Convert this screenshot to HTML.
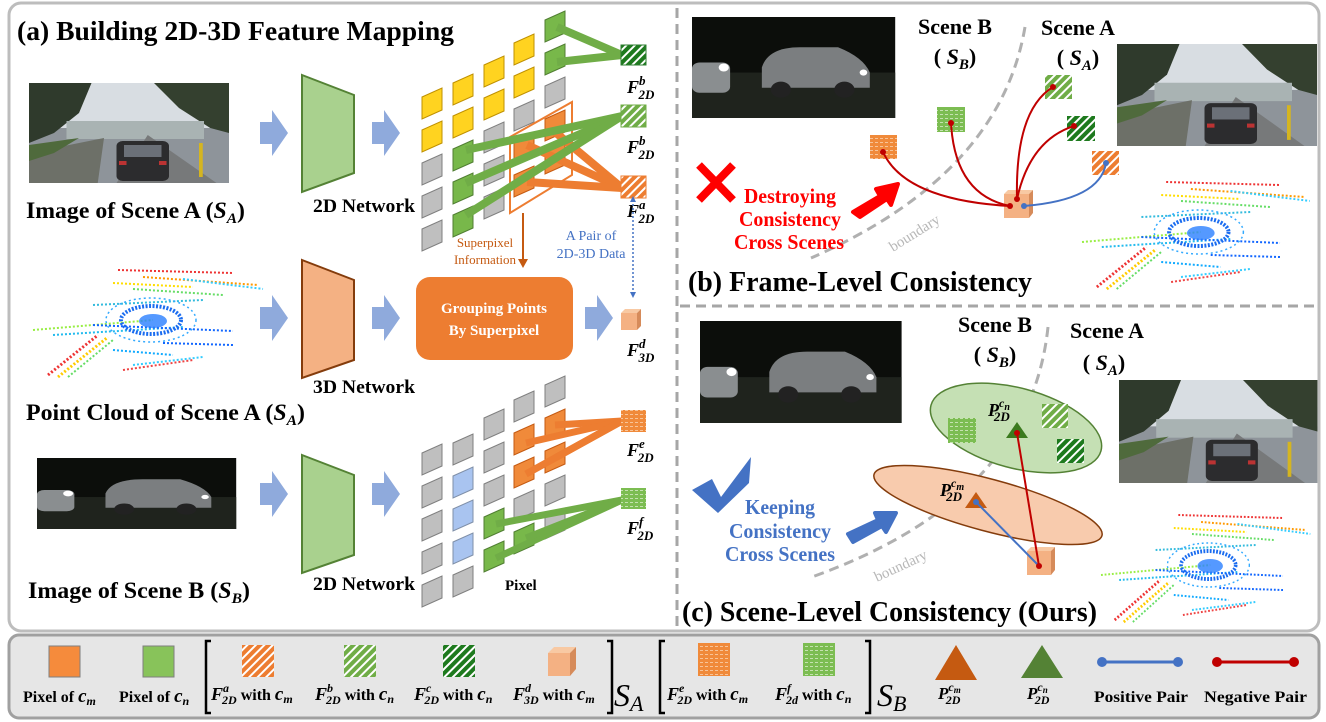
<!DOCTYPE html>
<html><head><meta charset="utf-8"><style>
html,body{margin:0;padding:0;background:#fff;}
svg{display:block;font-family:"Liberation Serif",serif;}
</style></head><body>
<svg width="1326" height="722" viewBox="0 0 1326 722" xmlns="http://www.w3.org/2000/svg">
<defs>
<polygon id="c" points="0,10 20,1 20,23 0,32"/>
<pattern id="hO" width="6" height="6" patternUnits="userSpaceOnUse" patternTransform="rotate(45)"><rect width="6" height="6" fill="#ed7d31"/><rect width="2" height="6" fill="#fff"/></pattern>
<pattern id="hG" width="6" height="6" patternUnits="userSpaceOnUse" patternTransform="rotate(45)"><rect width="6" height="6" fill="#70ad47"/><rect width="2" height="6" fill="#fff"/></pattern>
<pattern id="hD" width="6" height="6" patternUnits="userSpaceOnUse" patternTransform="rotate(45)"><rect width="6" height="6" fill="#1e7a1e"/><rect width="2" height="6" fill="#fff"/></pattern>
<pattern id="zO" width="5" height="4" patternUnits="userSpaceOnUse"><rect width="5" height="4" fill="#f08a3a"/><rect y="2" width="3" height="0.8" fill="#fbd3b0"/></pattern>
<pattern id="zG" width="5" height="4" patternUnits="userSpaceOnUse"><rect width="5" height="4" fill="#7cbd52"/><rect y="2" width="3" height="0.8" fill="#d7ecc8"/></pattern>
<g id="pc">
 <g fill="none" stroke-width="2" stroke-dasharray="2 2">
  <path d="M85,5 L200,8" stroke="#e33"/><path d="M110,12 L225,20" stroke="#f90"/><path d="M80,18 L160,22" stroke="#fd0"/>
  <path d="M150,14 L230,24" stroke="#3cf"/><path d="M100,24 L190,30" stroke="#6d6"/>
  <path d="M0,65 L120,55" stroke="#9e4"/><path d="M20,70 L150,62" stroke="#2be"/><path d="M60,60 L200,66" stroke="#16f"/>
  <path d="M15,110 L65,70" stroke="#e33" stroke-width="3"/><path d="M25,112 L75,72" stroke="#fc0" stroke-width="3"/><path d="M35,112 L80,75" stroke="#6d6"/>
  <path d="M90,105 L160,95" stroke="#e44"/><path d="M100,100 L170,92" stroke="#3cf"/>
  <path d="M60,40 L170,35" stroke="#3bd"/><path d="M130,78 L200,80" stroke="#16f"/><path d="M80,85 L140,90" stroke="#1af"/>
 </g>
 <ellipse cx="118" cy="55" rx="30" ry="14" fill="none" stroke="#1a6cf0" stroke-width="4" stroke-dasharray="2 1.5"/>
 <ellipse cx="120" cy="56" rx="14" ry="7" fill="#2a80ff" opacity=".8"/>
 <ellipse cx="118" cy="55" rx="45" ry="22" fill="none" stroke="#3af" stroke-width="1.5" stroke-dasharray="2 3"/>
</g>
<g id="day">
 <rect width="160" height="100" fill="#8e949a"/>
 <rect width="160" height="45" fill="#d8dde2"/>
 <path d="M0,0 H50 L40,30 L20,50 L0,60 Z" fill="#2f3a2c"/>
 <path d="M160,0 H100 L120,25 L145,45 L160,50 Z" fill="#34402f"/>
 <rect x="30" y="38" width="110" height="18" fill="#a9b3b3"/>
 <path d="M0,70 L60,55 L55,100 L0,100Z" fill="#6d7068"/>
 <path d="M0,62 L40,55 L20,70 L0,78Z" fill="#4f6a3c"/>
 <path d="M70,100 L95,52 L150,100Z" fill="#77797a"/>
 <rect x="70" y="58" width="42" height="40" rx="5" fill="#2c2c2e"/>
 <rect x="76" y="62" width="30" height="12" fill="#6b7078"/>
 <rect x="72" y="78" width="6" height="4" fill="#b33"/><rect x="104" y="78" width="6" height="4" fill="#b33"/>
 <rect x="136" y="60" width="3" height="34" fill="#d5b520"/>
</g>
<g id="night">
 <rect width="160" height="100" fill="#0c0e0b"/>
 <rect y="55" width="160" height="45" fill="#1f231d"/>
 <path d="M55,50 Q60,30 85,30 L115,30 Q135,40 140,55 L140,70 L55,70Z" fill="#7b7e80"/>
 <circle cx="70" cy="72" r="8" fill="#222"/><circle cx="120" cy="72" r="8" fill="#222"/>
 <rect x="0" y="45" width="30" height="30" rx="6" fill="#8a8e90"/>
 <circle cx="25" cy="50" r="4" fill="#fff"/><circle cx="135" cy="55" r="3" fill="#fff"/>
</g>
</defs>

<!-- frames -->
<rect x="9" y="3" width="1310" height="628" rx="12" fill="#fff" stroke="#bdbdbd" stroke-width="3"/>
<line x1="677" y1="8" x2="677" y2="626" stroke="#a6a6a6" stroke-width="3" stroke-dasharray="10 6"/>
<line x1="680" y1="306" x2="1318" y2="306" stroke="#a6a6a6" stroke-width="3" stroke-dasharray="10 6"/>
<rect x="9" y="635" width="1310" height="83" rx="10" fill="#e6e6e6" stroke="#a0a0a0" stroke-width="3"/>

<!-- (a) -->
<text x="17" y="40" font-size="27" font-weight="bold" textLength="437" lengthAdjust="spacingAndGlyphs">(a) Building 2D-3D Feature Mapping</text>
<use href="#day" transform="translate(29,83) scale(1.25,1)"/>
<text x="26" y="218" font-size="23" font-weight="bold" textLength="219" lengthAdjust="spacingAndGlyphs">Image of Scene A (<tspan font-style="italic">S</tspan><tspan font-style="italic" font-size="15" dy="5">A</tspan><tspan dy="-5">)</tspan></text>
<use href="#pc" transform="translate(33,265)"/>
<text x="26" y="420" font-size="23" font-weight="bold" textLength="279" lengthAdjust="spacingAndGlyphs">Point Cloud of Scene A (<tspan font-style="italic">S</tspan><tspan font-style="italic" font-size="15" dy="5">A</tspan><tspan dy="-5">)</tspan></text>
<use href="#night" transform="translate(37,458) scale(1.245,0.71)"/>
<text x="28" y="598" font-size="23" font-weight="bold" textLength="222" lengthAdjust="spacingAndGlyphs">Image of Scene B (<tspan font-style="italic">S</tspan><tspan font-style="italic" font-size="15" dy="5">B</tspan><tspan dy="-5">)</tspan></text>

<g fill="#8faadc">
 <path d="M260,122 h12 v-12 l16,23 l-16,23 v-12 h-12z"/>
 <path d="M372,122 h12 v-12 l16,23 l-16,23 v-12 h-12z"/>
 <path d="M260,307 h12 v-12 l16,23 l-16,23 v-12 h-12z"/>
 <path d="M372,307 h12 v-12 l16,23 l-16,23 v-12 h-12z"/>
 <path d="M585,307 h12 v-12 l16,23 l-16,23 v-12 h-12z"/>
 <path d="M260,483 h12 v-12 l16,23 l-16,23 v-12 h-12z"/>
 <path d="M372,483 h12 v-12 l16,23 l-16,23 v-12 h-12z"/>
</g>
<polygon points="302,75 354,95 354,173 302,192" fill="#a9d18e" stroke="#548235" stroke-width="2"/>
<text x="313" y="212" font-size="19" font-weight="bold" textLength="102" lengthAdjust="spacingAndGlyphs">2D Network</text>
<polygon points="302,260 354,280 354,360 302,378" fill="#f4b183" stroke="#843c0c" stroke-width="2"/>
<text x="313" y="393" font-size="19" font-weight="bold" textLength="102" lengthAdjust="spacingAndGlyphs">3D Network</text>
<polygon points="302,455 354,475 354,555 302,573" fill="#a9d18e" stroke="#548235" stroke-width="2"/>
<text x="313" y="590" font-size="19" font-weight="bold" textLength="102" lengthAdjust="spacingAndGlyphs">2D Network</text>

<!-- top grid -->
<g>
<g fill="#ffd320" stroke="#bf9000">
 <use href="#c" x="422" y="87"/><use href="#c" x="422" y="120"/>
 <use href="#c" x="453" y="73"/><use href="#c" x="453" y="106"/>
 <use href="#c" x="484" y="55"/><use href="#c" x="484" y="88"/>
 <use href="#c" x="514" y="33"/><use href="#c" x="514" y="66"/>
</g>
<g fill="#bfbfbf" stroke="#7f7f7f">
 <use href="#c" x="422" y="153"/><use href="#c" x="422" y="186"/><use href="#c" x="422" y="219"/>
 <use href="#c" x="484" y="121"/><use href="#c" x="484" y="154"/><use href="#c" x="484" y="187"/>
 <use href="#c" x="514" y="99"/><use href="#c" x="545" y="76"/>
</g>
<g fill="#78b84a" stroke="#507e32">
 <use href="#c" x="453" y="139"/><use href="#c" x="453" y="172"/><use href="#c" x="453" y="205"/>
 <use href="#c" x="545" y="10"/><use href="#c" x="545" y="43"/>
</g>
<g fill="#f08a3a" stroke="#c55a11">
 <use href="#c" x="514" y="132"/><use href="#c" x="514" y="165"/>
 <use href="#c" x="545" y="109"/><use href="#c" x="545" y="142"/>
</g>
</g>
<polygon points="510,137 572,102 572,175 510,213" fill="none" stroke="#ed7d31" stroke-width="2"/>
<g stroke-width="8">
 <line x1="557" y1="27" x2="622" y2="55" stroke="#70ad47"/>
 <line x1="557" y1="62" x2="622" y2="55" stroke="#70ad47"/>
 <line x1="527" y1="145" x2="622" y2="188" stroke="#ed7d31"/>
 <line x1="527" y1="182" x2="622" y2="188" stroke="#ed7d31"/>
 <line x1="555" y1="132" x2="622" y2="188" stroke="#ed7d31"/>
 <line x1="466" y1="150" x2="622" y2="116" stroke="#70ad47"/>
 <line x1="466" y1="183" x2="622" y2="116" stroke="#70ad47"/>
 <line x1="466" y1="215" x2="622" y2="116" stroke="#70ad47"/>
</g>
<rect x="621" y="45" width="25" height="20" fill="url(#hD)" stroke="#2e7d32"/>
<rect x="621" y="105" width="25" height="22" fill="url(#hG)" stroke="#70ad47"/>
<rect x="621" y="176" width="25" height="22" fill="url(#hO)" stroke="#ed7d31"/>
<g font-size="18" font-weight="bold" font-style="italic">
 <text x="627" y="93">F<tspan font-size="13" dy="-8">b</tspan><tspan font-size="13" dx="-7" dy="14">2D</tspan></text>
 <text x="627" y="153">F<tspan font-size="13" dy="-8">b</tspan><tspan font-size="13" dx="-7" dy="14">2D</tspan></text>
 <text x="627" y="217">F<tspan font-size="13" dy="-8">a</tspan><tspan font-size="13" dx="-7" dy="14">2D</tspan></text>
 <text x="627" y="356">F<tspan font-size="13" dy="-8">d</tspan><tspan font-size="13" dx="-7" dy="14">3D</tspan></text>
 <text x="627" y="456">F<tspan font-size="13" dy="-8">e</tspan><tspan font-size="13" dx="-7" dy="14">2D</tspan></text>
 <text x="627" y="534">F<tspan font-size="13" dy="-8">f</tspan><tspan font-size="13" dx="-6" dy="14">2D</tspan></text>
</g>
<line x1="523" y1="213" x2="523" y2="260" stroke="#c55a11" stroke-width="2"/>
<path d="M518,259 L528,259 L523,268Z" fill="#c55a11"/>
<text x="485" y="247" font-size="13" fill="#c55a11" text-anchor="middle">Superpixel</text>
<text x="485" y="264" font-size="13" fill="#c55a11" text-anchor="middle">Information</text>
<line x1="633" y1="200" x2="633" y2="294" stroke="#4472c4" stroke-width="1.5" stroke-dasharray="2 2"/>
<path d="M630,202 L636,202 L633,196Z M630,292 L636,292 L633,298Z" fill="#4472c4"/>
<text x="591" y="240" font-size="14" fill="#4472c4" text-anchor="middle">A Pair of</text>
<text x="591" y="258" font-size="14" fill="#4472c4" text-anchor="middle">2D-3D Data</text>
<rect x="416" y="277" width="157" height="83" rx="14" fill="#ed7d31"/>
<text x="494" y="313" font-size="15" font-weight="bold" fill="#fff" text-anchor="middle">Grouping Points</text>
<text x="494" y="335" font-size="15" font-weight="bold" fill="#fff" text-anchor="middle">By Superpixel</text>
<g><rect x="621" y="313" width="16" height="17" fill="#f4b183"/><path d="M621,313 l4,-4 h16 l-4,4z" fill="#f8c9a3"/><path d="M637,313 l4,-4 v17 l-4,4z" fill="#d68b5a"/></g>

<!-- bottom grid -->
<g>
<g fill="#bfbfbf" stroke="#7f7f7f">
 <use href="#c" x="422" y="443"/><use href="#c" x="422" y="476"/><use href="#c" x="422" y="509"/><use href="#c" x="422" y="542"/><use href="#c" x="422" y="575"/>
 <use href="#c" x="453" y="433"/><use href="#c" x="453" y="565"/>
 <use href="#c" x="484" y="408"/><use href="#c" x="484" y="441"/><use href="#c" x="484" y="474"/>
 <use href="#c" x="514" y="390"/><use href="#c" x="514" y="489"/>
 <use href="#c" x="545" y="375"/><use href="#c" x="545" y="474"/><use href="#c" x="545" y="507"/>
</g>
<g fill="#a9c4f0" stroke="#7f8fa8">
 <use href="#c" x="453" y="466"/><use href="#c" x="453" y="499"/><use href="#c" x="453" y="532"/>
</g>
<g fill="#78b84a" stroke="#507e32">
 <use href="#c" x="484" y="507"/><use href="#c" x="484" y="540"/><use href="#c" x="514" y="522"/>
</g>
<g fill="#f08a3a" stroke="#c55a11">
 <use href="#c" x="514" y="423"/><use href="#c" x="514" y="456"/>
 <use href="#c" x="545" y="408"/><use href="#c" x="545" y="441"/>
</g>
</g>
<g stroke-width="7">
 <line x1="555" y1="425" x2="622" y2="421" stroke="#ed7d31"/>
 <line x1="526" y1="443" x2="622" y2="421" stroke="#ed7d31"/>
 <line x1="555" y1="458" x2="622" y2="421" stroke="#ed7d31"/>
 <line x1="526" y1="474" x2="622" y2="421" stroke="#ed7d31"/>
 <line x1="496" y1="524" x2="622" y2="500" stroke="#70ad47"/>
 <line x1="496" y1="558" x2="622" y2="500" stroke="#70ad47"/>
 <line x1="526" y1="538" x2="622" y2="500" stroke="#70ad47"/>
</g>
<rect x="621" y="410" width="25" height="22" fill="url(#zO)"/>
<rect x="621" y="488" width="25" height="21" fill="url(#zG)"/>
<text x="505" y="590" font-size="15" font-weight="bold">Pixel</text>

<!-- (b) -->
<use href="#night" transform="translate(692,17) scale(1.27,1.01)"/>
<use href="#day" transform="translate(1117,44) scale(1.25,1.02)"/>
<use href="#pc" transform="translate(1082,177) scale(0.99,1.0)"/>
<text x="955" y="34" font-size="22" font-weight="bold" text-anchor="middle">Scene B</text>
<text x="955" y="64" font-size="22" font-weight="bold" text-anchor="middle">( <tspan font-style="italic">S</tspan><tspan font-style="italic" font-size="15" dy="5">B</tspan><tspan dy="-5">)</tspan></text>
<text x="1078" y="35" font-size="22" font-weight="bold" text-anchor="middle">Scene A</text>
<text x="1078" y="65" font-size="22" font-weight="bold" text-anchor="middle">( <tspan font-style="italic">S</tspan><tspan font-style="italic" font-size="15" dy="5">A</tspan><tspan dy="-5">)</tspan></text>
<path d="M1025,27 Q1000,175 811,258" fill="none" stroke="#b0b0b0" stroke-width="3" stroke-dasharray="10 6"/>
<text x="893" y="252" font-size="15" fill="#b8b8b8" transform="rotate(-32 893 252)">boundary</text>
<rect x="870" y="135" width="27" height="24" fill="url(#zO)"/>
<rect x="937" y="107" width="28" height="25" fill="url(#zG)"/>
<rect x="1045" y="75" width="27" height="24" fill="url(#hG)"/>
<rect x="1067" y="116" width="28" height="25" fill="url(#hD)"/>
<rect x="1092" y="151" width="27" height="24" fill="url(#hO)"/>
<g><rect x="1004" y="194" width="25" height="24" fill="#f4b183"/><path d="M1004,194 l4,-4 h25 l-4,4z" fill="#f8c9a3"/><path d="M1029,194 l4,-4 v23 l-4,5z" fill="#d68b5a"/></g>
<g fill="none" stroke="#c00000" stroke-width="2">
 <path d="M883,152 Q905,200 1010,206"/>
 <path d="M951,123 Q955,195 1010,206"/>
 <path d="M1017,199 Q1015,110 1053,87"/>
 <path d="M1017,199 Q1030,140 1074,126"/>
</g>
<path d="M1024,206 Q1100,200 1106,163" fill="none" stroke="#4472c4" stroke-width="2"/>
<g fill="#c00000"><circle cx="883" cy="152" r="3"/><circle cx="951" cy="123" r="3"/><circle cx="1053" cy="87" r="3"/><circle cx="1074" cy="126" r="3"/><circle cx="1010" cy="206" r="3"/><circle cx="1017" cy="199" r="3"/></g>
<g fill="#4472c4"><circle cx="1106" cy="163" r="3"/><circle cx="1024" cy="206" r="3"/></g>
<path d="M699,165 L733,200 M733,165 L699,200" stroke="#f00" stroke-width="8"/>
<g font-size="21" font-weight="bold" fill="#f00" text-anchor="middle">
 <text x="790" y="203" textLength="92" lengthAdjust="spacingAndGlyphs">Destroying</text><text x="790" y="226" textLength="102" lengthAdjust="spacingAndGlyphs">Consistency</text><text x="789" y="249" textLength="110" lengthAdjust="spacingAndGlyphs">Cross Scenes</text>
</g>
<path d="M853,212 L880,196 L876,189 L898,184 L891,205 L887,199 L860,217Z" fill="#f00" stroke="#f00" stroke-width="4" stroke-linejoin="round"/>
<text x="688" y="291" font-size="28" font-weight="bold" textLength="344" lengthAdjust="spacingAndGlyphs">(b) Frame-Level Consistency</text>

<!-- (c) -->
<use href="#night" transform="translate(700,321) scale(1.26,1.02)"/>
<use href="#day" transform="translate(1119,380) scale(1.24,1.03)"/>
<use href="#pc" transform="translate(1101,510) scale(0.91,1.0)"/>
<text x="995" y="332" font-size="22" font-weight="bold" text-anchor="middle">Scene B</text>
<text x="995" y="362" font-size="22" font-weight="bold" text-anchor="middle">( <tspan font-style="italic">S</tspan><tspan font-style="italic" font-size="15" dy="5">B</tspan><tspan dy="-5">)</tspan></text>
<text x="1107" y="338" font-size="22" font-weight="bold" text-anchor="middle">Scene A</text>
<text x="1104" y="370" font-size="22" font-weight="bold" text-anchor="middle">( <tspan font-style="italic">S</tspan><tspan font-style="italic" font-size="15" dy="5">A</tspan><tspan dy="-5">)</tspan></text>
<path d="M1048,327 Q1030,500 809,578" fill="none" stroke="#b0b0b0" stroke-width="3" stroke-dasharray="10 6"/>
<text x="877" y="582" font-size="15" fill="#b8b8b8" transform="rotate(-25 877 582)">boundary</text>
<ellipse cx="1016" cy="428" rx="88" ry="40" transform="rotate(15 1016 428)" fill="#c5e0b4" stroke="#548235" stroke-width="1.5"/>
<ellipse cx="988" cy="505" rx="118" ry="26" transform="rotate(15 988 505)" fill="#f8cbad" stroke="#843c0c" stroke-width="1.5"/>
<rect x="948" y="418" width="28" height="25" fill="url(#zG)"/>
<rect x="1042" y="404" width="26" height="24" fill="url(#hG)"/>
<rect x="1057" y="439" width="27" height="24" fill="url(#hD)"/>
<path d="M1017,422 L1028,438 L1006,438Z" fill="#3b7a1e"/>
<path d="M976,492 L987,508 L965,508Z" fill="#c55a11"/>
<g font-size="18" font-weight="bold" font-style="italic">
 <text x="988" y="416">P<tspan font-size="12" dy="-9">c</tspan><tspan font-size="10" dy="3">n</tspan><tspan font-size="13" dx="-16" dy="11">2D</tspan></text>
 <text x="940" y="496">P<tspan font-size="12" dy="-9">c</tspan><tspan font-size="10" dy="3">m</tspan><tspan font-size="13" dx="-18" dy="11">2D</tspan></text>
</g>
<g><rect x="1027" y="551" width="24" height="24" fill="#f4b183"/><path d="M1027,551 l4,-4 h24 l-4,4z" fill="#f8c9a3"/><path d="M1051,551 l4,-4 v23 l-4,5z" fill="#d68b5a"/></g>
<line x1="1039" y1="566" x2="1017" y2="433" stroke="#c00000" stroke-width="2"/>
<line x1="1039" y1="566" x2="976" y2="502" stroke="#4472c4" stroke-width="2"/>
<circle cx="1039" cy="566" r="3" fill="#c00000"/><circle cx="1017" cy="433" r="3" fill="#c00000"/><circle cx="976" cy="502" r="3" fill="#4472c4"/>
<path d="M692,490 L712,479 L721,497 L751,457 L749,483 L718,513Z" fill="#4472c4"/>
<g font-size="21" font-weight="bold" fill="#4472c4" text-anchor="middle">
 <text x="780" y="514" textLength="70" lengthAdjust="spacingAndGlyphs">Keeping</text><text x="780" y="538" textLength="102" lengthAdjust="spacingAndGlyphs">Consistency</text><text x="780" y="561" textLength="110" lengthAdjust="spacingAndGlyphs">Cross Scenes</text>
</g>
<path d="M848,534 L878,520 L875,513 L896,513 L886,532 L882,526 L853,542Z" fill="#4472c4" stroke="#4472c4" stroke-width="4" stroke-linejoin="round"/>
<text x="682" y="621" font-size="28" font-weight="bold" textLength="415" lengthAdjust="spacingAndGlyphs">(c) Scene-Level Consistency (Ours)</text>

<!-- legend -->
<rect x="49" y="646" width="31" height="31" fill="#f58b3c" stroke="#7f7f7f"/>
<rect x="143" y="646" width="31" height="31" fill="#88c35a" stroke="#7f7f7f"/>
<rect x="242" y="645" width="32" height="32" fill="url(#hO)"/>
<rect x="344" y="645" width="32" height="32" fill="url(#hG)"/>
<rect x="443" y="645" width="32" height="32" fill="url(#hD)"/>
<g><rect x="548" y="653" width="22" height="23" fill="#f4b183"/><path d="M548,653 l6,-6 h22 l-6,6z" fill="#f8c9a3"/><path d="M570,653 l6,-6 v22 l-6,7z" fill="#d68b5a"/></g>
<path d="M211,641 h-5 v72 h5 M607,641 h5 v72 h-5" fill="none" stroke="#000" stroke-width="2.5"/>
<g font-size="16" font-weight="bold">
 <text x="23" y="702">Pixel of <tspan font-style="italic" font-size="19">c</tspan><tspan font-style="italic" font-size="12" dy="3">m</tspan></text>
 <text x="119" y="702">Pixel of <tspan font-style="italic" font-size="19">c</tspan><tspan font-style="italic" font-size="12" dy="3">n</tspan></text>
 <text x="211" y="700"><tspan font-style="italic" font-size="18">F</tspan><tspan font-style="italic" font-size="12" dy="-8">a</tspan><tspan font-style="italic" font-size="12" dx="-7" dy="12">2D</tspan><tspan dy="-4"> with </tspan><tspan font-style="italic" font-size="19">c</tspan><tspan font-style="italic" font-size="12" dy="3">m</tspan></text>
 <text x="315" y="700"><tspan font-style="italic" font-size="18">F</tspan><tspan font-style="italic" font-size="12" dy="-8">b</tspan><tspan font-style="italic" font-size="12" dx="-7" dy="12">2D</tspan><tspan dy="-4"> with </tspan><tspan font-style="italic" font-size="19">c</tspan><tspan font-style="italic" font-size="12" dy="3">n</tspan></text>
 <text x="414" y="700"><tspan font-style="italic" font-size="18">F</tspan><tspan font-style="italic" font-size="12" dy="-8">c</tspan><tspan font-style="italic" font-size="12" dx="-7" dy="12">2D</tspan><tspan dy="-4"> with </tspan><tspan font-style="italic" font-size="19">c</tspan><tspan font-style="italic" font-size="12" dy="3">n</tspan></text>
 <text x="513" y="700"><tspan font-style="italic" font-size="18">F</tspan><tspan font-style="italic" font-size="12" dy="-8">d</tspan><tspan font-style="italic" font-size="12" dx="-7" dy="12">3D</tspan><tspan dy="-4"> with </tspan><tspan font-style="italic" font-size="19">c</tspan><tspan font-style="italic" font-size="12" dy="3">m</tspan></text>
 <text x="667" y="700"><tspan font-style="italic" font-size="18">F</tspan><tspan font-style="italic" font-size="12" dy="-8">e</tspan><tspan font-style="italic" font-size="12" dx="-7" dy="12">2D</tspan><tspan dy="-4"> with </tspan><tspan font-style="italic" font-size="19">c</tspan><tspan font-style="italic" font-size="12" dy="3">m</tspan></text>
 <text x="775" y="700"><tspan font-style="italic" font-size="18">F</tspan><tspan font-style="italic" font-size="12" dy="-8">f</tspan><tspan font-style="italic" font-size="12" dx="-5" dy="12">2d</tspan><tspan dy="-4"> with </tspan><tspan font-style="italic" font-size="19">c</tspan><tspan font-style="italic" font-size="12" dy="3">n</tspan></text>
 <text x="1094" y="702" textLength="94" lengthAdjust="spacingAndGlyphs">Positive Pair</text>
 <text x="1204" y="702" textLength="103" lengthAdjust="spacingAndGlyphs">Negative Pair</text>
</g>
<text x="614" y="706" font-size="32" font-style="italic">S<tspan font-size="22" dy="5">A</tspan></text>
<rect x="698" y="643" width="32" height="33" fill="url(#zO)"/>
<rect x="803" y="643" width="32" height="33" fill="url(#zG)"/>
<path d="M665,641 h-5 v72 h5 M865,641 h5 v72 h-5" fill="none" stroke="#000" stroke-width="2.5"/>
<text x="877" y="706" font-size="32" font-style="italic">S<tspan font-size="22" dy="5">B</tspan></text>
<path d="M956,645 L977,680 L935,680Z" fill="#c55a11"/>
<path d="M1042,645 L1063,678 L1021,678Z" fill="#548235"/>
<g font-size="17" font-weight="bold" font-style="italic">
 <text x="938" y="699">P<tspan font-size="12" dy="-8">c</tspan><tspan font-size="9" dy="2">m</tspan><tspan font-size="12" dx="-15" dy="11">2D</tspan></text>
 <text x="1027" y="699">P<tspan font-size="12" dy="-8">c</tspan><tspan font-size="9" dy="2">n</tspan><tspan font-size="12" dx="-13" dy="11">2D</tspan></text>
</g>
<line x1="1102" y1="662" x2="1178" y2="662" stroke="#4472c4" stroke-width="3"/>
<circle cx="1102" cy="662" r="5" fill="#4472c4"/><circle cx="1178" cy="662" r="5" fill="#4472c4"/>
<line x1="1217" y1="662" x2="1294" y2="662" stroke="#c00000" stroke-width="3"/>
<circle cx="1217" cy="662" r="5" fill="#c00000"/><circle cx="1294" cy="662" r="5" fill="#c00000"/>
</svg>
</body></html>
